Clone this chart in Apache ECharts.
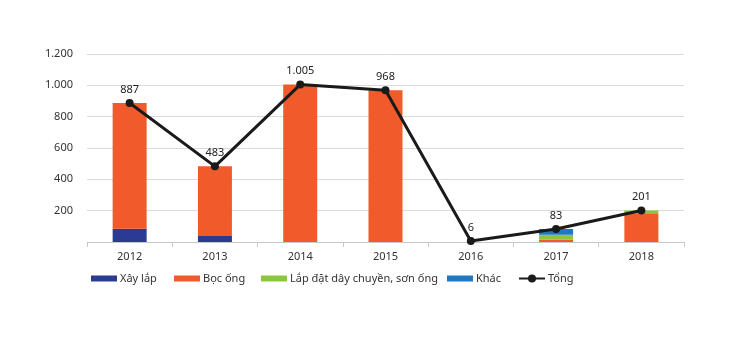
<!DOCTYPE html>
<html>
<head>
<meta charset="utf-8">
<script src="https://cdn.jsdelivr.net/npm/echarts@6/dist/echarts.min.js"></script>
<style>
  html, body { margin: 0; padding: 0; background: #fff; }
  #chart { width: 730px; height: 337px; }
</style>
</head>
<body>
<div id="chart"></div>
<script>
// Years on the category axis
const years = ['2012', '2013', '2014', '2015', '2016', '2017', '2018'];

// Stacked components by segment
const xayLap = [85, 38, 0, 0, 0, 0, 0];
const bocOng = [802, 445, 1005, 968, 0, 14, 184];
const lapDat = [0, 0, 0, 0, 0, 32, 17];
const khac = [0, 0, 0, 0, 0, 37, 0];

// Totals shown by the line
const tong = [887, 483, 1005, 968, 6, 83, 201];

// Value axis ticks
const yTicks = [0, 200, 400, 600, 800, 1000, 1200];

const FONT = '"Noto Sans", "Open Sans", sans-serif';
const fmt = v => String(v).replace(/\B(?=(\d{3})+(?!\d))/g, '.');

const chart = echarts.init(document.getElementById('chart'), null, { renderer: 'canvas' });

function legendAt(name, left, iconType) {
  const item = { name: name };
  return {
    data: [item],
    left: left,
    top: 273,
    itemWidth: 26,
    itemHeight: iconType === 'line' ? 10 : 6,
    itemGap: 0,
    padding: 0,
    textStyle: { fontFamily: FONT, fontSize: 11, color: '#333', padding: [0, 0, 0, -2] },
    icon: iconType === 'line' ? undefined : 'rect',
    selectedMode: false
  };
}

const barSeries = (name, data, color) => ({
  name: name,
  type: 'bar',
  stack: 'total',
  data: data,
  barWidth: 34,
  itemStyle: { color: color },
  emphasis: { disabled: true }
});

chart.setOption({
  animation: false,
  textStyle: { fontFamily: FONT },
  grid: { left: 87, right: 46, top: 54, bottom: 95 },
  legend: [
    legendAt('Xây lắp', 91),
    legendAt('Bọc ống', 174),
    legendAt('Lắp đặt dây chuyền, sơn ống', 261),
    legendAt('Khác', 447),
    legendAt('Tổng', 518, 'line')
  ],
  xAxis: {
    type: 'category',
    data: years,
    boundaryGap: true,
    axisLine: { lineStyle: { color: '#c8c8c8', width: 1 } },
    axisTick: { show: true, length: 5, lineStyle: { color: '#c8c8c8' } },
    axisLabel: { color: '#333', fontSize: 11, fontFamily: FONT, margin: 9 }
  },
  yAxis: {
    type: 'value',
    min: yTicks[0],
    max: yTicks[yTicks.length - 1],
    interval: yTicks[1] - yTicks[0],
    axisLine: { show: false },
    axisTick: { show: false },
    splitLine: { lineStyle: { color: '#dadada', width: 1 } },
    axisLabel: {
      color: '#333', fontSize: 11, fontFamily: FONT, margin: 14,
      formatter: v => (v === 0 ? '' : fmt(v))
    }
  },
  series: [
    barSeries('Xây lắp', xayLap, '#2b3a92'),
    barSeries('Bọc ống', bocOng, '#f15a2b'),
    barSeries('Lắp đặt dây chuyền, sơn ống', lapDat, '#8cc63f'),
    barSeries('Khác', khac, '#1f78c1'),
    {
      name: 'Tổng',
      type: 'line',
      data: tong,
      z: 10,
      symbol: 'circle',
      symbolSize: 8,
      lineStyle: { color: '#1a1a1a', width: 3 },
      itemStyle: { color: '#1a1a1a' },
      label: {
        show: true,
        position: 'top',
        distance: 4,
        color: '#222',
        fontSize: 11,
        fontFamily: FONT,
        formatter: p => fmt(p.value)
      },
      emphasis: { disabled: true }
    }
  ]
});
</script>
</body>
</html>
